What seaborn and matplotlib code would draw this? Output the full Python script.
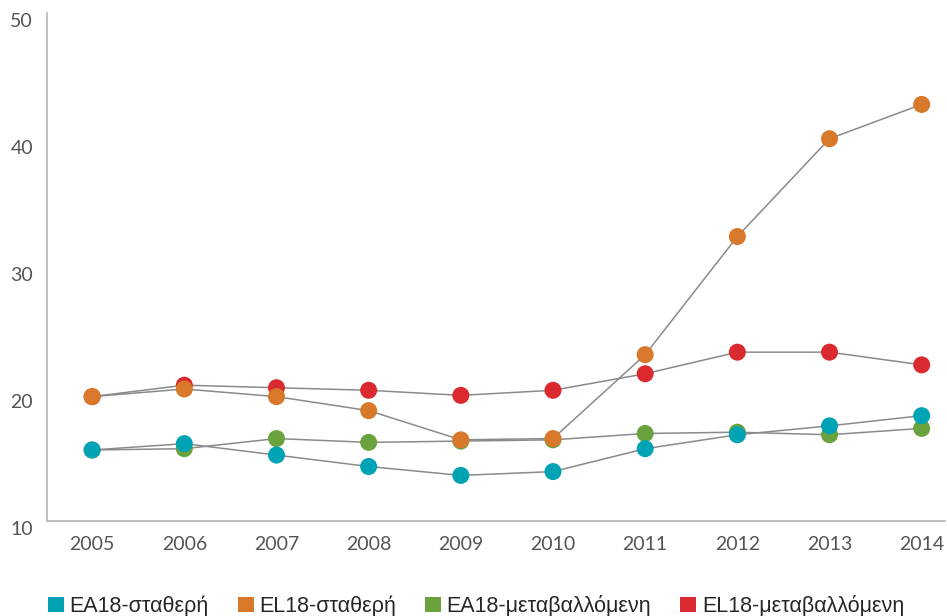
import pandas as pd
import numpy as np
import seaborn as sns
import matplotlib.pyplot as plt
from matplotlib.patches import Patch

years = [2005, 2006, 2007, 2008, 2009, 2010, 2011, 2012, 2013, 2014]
ea18_fixed = [15.6, 16.1, 15.2, 14.3, 13.6, 13.9, 15.7, 16.8, 17.5, 18.3]
el18_fixed = [19.8, 20.4, 19.8, 18.7, 16.4, 16.5, 23.1, 32.4, 40.1, 42.8]
ea18_var = [15.6, 15.7, 16.5, 16.2, 16.3, 16.4, 16.9, 17.0, 16.8, 17.3]
el18_var = [19.8, 20.7, 20.5, 20.3, 19.9, 20.3, 21.6, 23.3, 23.3, 22.3]

labels = ['EA18-σταθερή', 'EL18-σταθερή', 'EA18-μεταβαλλόμενη', 'EL18-μεταβαλλόμενη']
colors = ['#00A3B4', '#D8782A', '#6AA23E', '#DA2A30']
series = [ea18_fixed, el18_fixed, ea18_var, el18_var]

sns.set_style('white')
plt.rcParams['font.family'] = ['Lato', 'DejaVu Sans']

fig = plt.figure(figsize=(9.47, 6.16), dpi=100)
ax = fig.add_axes([0.0496, 0.154, 0.948, 0.825])

# draw order so the overlaps look like the original
order = [3, 2, 1, 0]
for z, i in enumerate(order):
    df = pd.DataFrame({'year': years, 'value': series[i]})
    sns.lineplot(data=df, x='year', y='value', color='#8a8a8a', linewidth=1.1,
                 ax=ax, zorder=2 + z * 0.1)
for z, i in enumerate(order):
    df = pd.DataFrame({'year': years, 'value': series[i]})
    sns.scatterplot(data=df, x='year', y='value', color=colors[i], s=150,
                    edgecolor='none', ax=ax, zorder=3 + z * 0.1)

ax.set_xlim(2004.51, 2014.25)
ax.set_ylim(10, 50)
ax.set_xticks(years)
ax.set_yticks([10, 20, 30, 40, 50])
ax.set_xlabel('')
ax.set_ylabel('')

for s in ['top', 'right']:
    ax.spines[s].set_visible(False)
for s in ['left', 'bottom']:
    ax.spines[s].set_color('#b5b5b5')
    ax.spines[s].set_linewidth(1.2)

ax.tick_params(axis='y', direction='in', length=17, color='#b5b5b5', width=1,
               labelsize=14, labelcolor='#555555', pad=10)
ax.tick_params(axis='x', direction='out', length=7, color='#b5b5b5', width=1,
               labelsize=14, labelcolor='#555555', pad=4)
for lbl in ax.get_yticklabels():
    lbl.set_verticalalignment('top')

handles = [Patch(facecolor=c, edgecolor='none') for c in colors]
fig.legend(handles, labels, loc='lower left', bbox_to_anchor=(0.030, -0.033),
           ncol=4, frameon=False, handlelength=0.75, handleheight=0.75,
           handletextpad=0.25, columnspacing=1.35,
           prop={'family': ['Liberation Sans', 'DejaVu Sans'], 'size': 15.5})

fig.savefig('out.png', dpi=100)
